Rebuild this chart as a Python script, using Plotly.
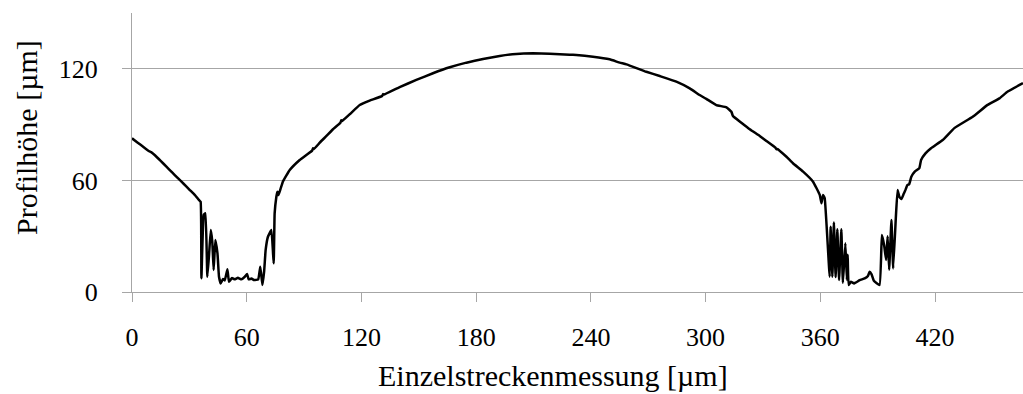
import plotly.graph_objects as go

# Profile trace along the single-line measurement (x in µm, height in µm)
x_um = [
    0, 3, 6, 9, 10, 12, 15, 18, 21, 24, 27, 30, 33, 35, 35.9,
    36.3, 37.5, 38.4, 39.4, 40.3, 41.2, 42.0, 42.7, 43.6, 44.7, 45.5, 46.4,
    47.6, 48.5, 49.9, 50.7, 51.5, 52.3, 53.7, 55.4, 57.2, 59.0, 60.2, 61.0,
    62.5, 63.9, 66.0, 67.1, 68.2, 69.1, 69.9, 71.1, 72.9, 74.1, 74.6, 75.5,
    76.0, 76.6, 77.8, 79.0, 82.5, 87.7, 91.2, 94.2, 94.7, 95.2, 98.2, 101.7,
    105.1, 109.0, 109.5, 110.0, 114.0, 119.1, 124.3, 130.8, 131.3, 131.8,
    140.0, 148.7, 157.4, 166.2, 174.9, 183.6, 192.3, 201.0, 209.7, 218.5,
    228.9, 232.4, 241.1, 249.8, 255.1, 258.6, 269.0, 276.0, 284.7, 291.7,
    296.9, 300.4, 305.6, 310.9, 313.5, 314.3, 318.7, 323.1, 328.3, 331.8,
    336.5, 337.0, 337.5, 342.3, 345.7, 351.0, 356.2, 359.7, 360.6, 361.4, 362.3,
    364.9, 365.4, 366.3, 367.1, 368.0, 368.9, 369.8, 371.0, 371.8, 373.1,
    373.9, 374.3, 374.8, 376.0, 377.7, 380.6, 383.2, 384.9, 385.8, 386.8,
    388.0, 391.0, 392.2, 393.4, 394.4, 395.2, 396.0, 397.2, 398.1, 399.5,
    400.4, 401.4, 402.4, 403.5, 404.5, 405.5, 406.5, 407.6, 409.4, 411.8,
    412.7, 415.0, 417.9, 424.0, 430.1, 439.7, 447.5, 453.7, 458.0, 466.0,
]
height_um = [
    82.6, 80.3, 78.0, 75.7, 75.2, 73.5, 70.5, 67.4, 64.3, 61.2, 58.2, 55.1, 52.0, 49.5, 48.5,
    7.4, 41.4, 42.3, 8.2, 20.0, 33.3, 27.0, 11.8, 28.0, 20.8, 8.2, 4.6,
    7.0, 6.2, 12.2, 5.5, 6.5, 7.6, 6.8, 7.6, 6.8, 8.2, 9.7, 6.8,
    7.2, 6.4, 6.8, 13.6, 3.8, 11.0, 22.6, 29.7, 33.3, 15.4, 42.3, 51.2,
    53.9, 52.1, 55.8, 59.5, 65.6, 71.0, 73.7, 76.0, 77.3, 76.9, 80.3, 83.9,
    87.5, 91.0, 92.4, 92.0, 95.7, 100.5, 102.9, 105.4, 106.4, 106.2,
    110.2, 114.0, 117.6, 120.8, 123.3, 125.3, 126.9, 128.0, 128.3, 128.1,
    127.6, 127.4, 126.5, 125.1, 123.3, 122.4, 118.4, 116.1, 113.1, 109.5,
    105.9, 103.8, 100.5, 99.3, 96.9, 94.6, 91.0, 87.5, 83.9, 81.2,
    77.6, 76.8, 76.9, 72.7, 69.2, 64.7, 59.3, 52.2, 47.7, 52.2, 50.4,
    8.2, 35.1, 8.2, 37.3, 8.0, 33.7, 6.4, 33.7, 5.0, 26.2,
    6.5, 20.0, 3.8, 5.5, 4.6, 6.4, 7.3, 8.6, 10.9, 9.5,
    6.0, 3.8, 30.6, 25.0, 17.2, 30.0, 12.0, 38.7, 12.7, 40.0,
    54.8, 51.0, 50.0, 52.5, 54.8, 57.5, 58.0, 62.0, 64.7, 66.6,
    71.0, 74.5, 77.3, 81.7, 88.1, 94.2, 100.6, 104.1, 107.8, 112.3,
]

x_ticks = [0, 60, 120, 180, 240, 300, 360, 420]
y_ticks = [0, 60, 120]

x_title = "Einzelstreckenmessung [µm]"
y_title = "Profilhöhe [µm]"

FONT = "Liberation Serif"
GRID = "#a6a6a6"

W, H = 1023, 394
ML, MT, MB, MR = 132, 13, 102, 0

fig = go.Figure(
    go.Scatter(
        x=x_um,
        y=height_um,
        mode="lines",
        line=dict(color="black", width=2.5, shape="spline", smoothing=0.3),
        hoverinfo="skip",
    )
)

plot_w = W - ML - MR
plot_h = H - MT - MB

fig.update_layout(
    width=W,
    height=H,
    margin=dict(l=ML, r=MR, t=MT, b=MB, pad=0),
    paper_bgcolor="white",
    plot_bgcolor="white",
    showlegend=False,
    font=dict(family=FONT, size=26, color="black"),
    xaxis=dict(
        range=[0, plot_w / 1.912],
        tickvals=x_ticks,
        ticks="outside",
        ticklen=9,
        tickcolor=GRID,
        tickwidth=1,
        showline=True,
        linecolor=GRID,
        linewidth=1,
        showgrid=False,
        zeroline=False,
        ticklabelstandoff=13,
        tickfont=dict(family=FONT, size=26),
    ),
    yaxis=dict(
        range=[0, 150],
        tickvals=y_ticks,
        ticks="outside",
        ticklen=9,
        tickcolor=GRID,
        tickwidth=1,
        showline=True,
        linecolor=GRID,
        linewidth=1,
        showgrid=True,
        gridcolor=GRID,
        gridwidth=1,
        zeroline=False,
        ticklabelstandoff=19,
        tickfont=dict(family=FONT, size=26),
    ),
    annotations=[
        dict(
            text=x_title,
            xref="paper", yref="paper",
            x=(553 - ML) / plot_w, y=-(375 - (H - MB)) / plot_h,
            xanchor="center", yanchor="middle",
            showarrow=False,
            font=dict(family=FONT, size=30),
        ),
        dict(
            text=y_title,
            xref="paper", yref="paper",
            x=(26 - ML) / plot_w, y=((H - MB) - 138) / plot_h,
            xanchor="center", yanchor="middle",
            textangle=-90,
            showarrow=False,
            font=dict(family=FONT, size=30),
        ),
    ],
)

fig.write_html("out.html")
